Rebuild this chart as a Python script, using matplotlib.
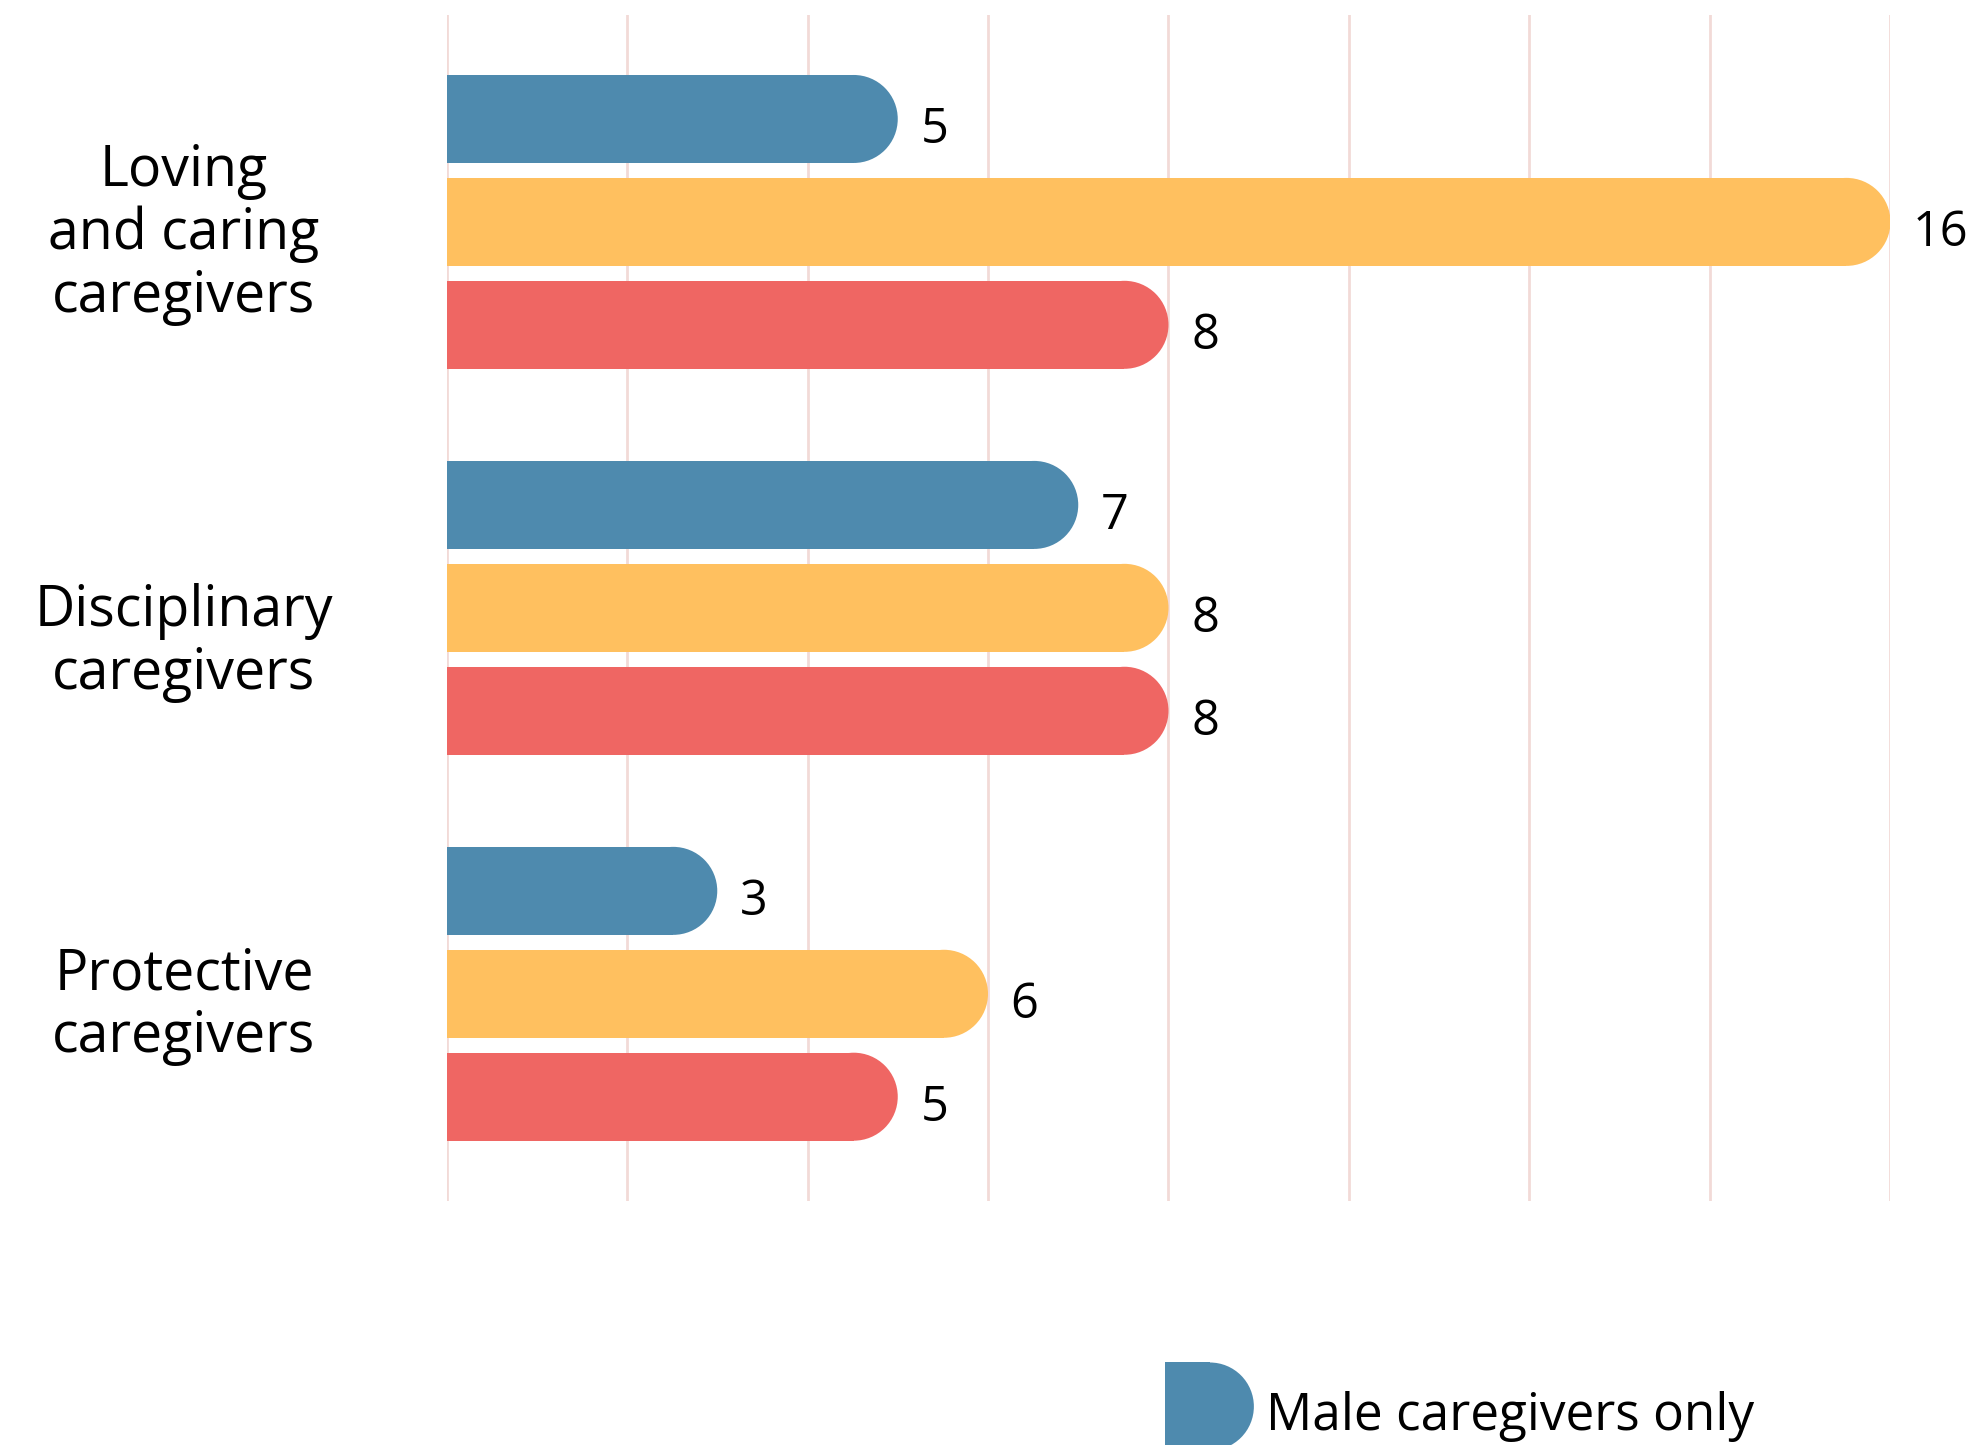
import matplotlib.pyplot as plt
from matplotlib.patches import Ellipse

categories = ['Loving\nand caring\ncaregivers', 'Disciplinary\ncaregivers', 'Protective\ncaregivers']
male_only = [5, 7, 3]
female_only = [16, 8, 6]
both_caregivers = [8, 8, 5]
series = [male_only, female_only, both_caregivers]
colors = ['#4E8AAE', '#FFC05F', '#EF6663']
legend_label = 'Male caregivers only'

plt.rcParams['font.family'] = ['Open Sans', 'DejaVu Sans']

W, H = 1967, 1445
fig = plt.figure(figsize=(W / 100, H / 100), dpi=100)
ax = fig.add_axes([0.2270, 0.1691, 0.7341, 0.8205])
ax.set_xlim(0, 16)
ax.set_ylim(10.51, -1.01)

ax.set_xticks(range(0, 17, 2))
ax.set_yticks([])
ax.tick_params(axis='x', length=0, labelbottom=False)
ax.xaxis.grid(True, color='#F2DAD7', lw=2)
ax.set_axisbelow(True)
for s in ax.spines.values():
    s.set_visible(False)

group_gap = 3.75
bar_h = 0.855
# cap radius in x data units so the end looks round
px_per_x = 0.7341 * W / 16
rx = (bar_h / 2) * (0.8205 * H / 11.52) / px_per_x

for g, cat in enumerate(categories):
    for s, vals in enumerate(series):
        v = vals[g]
        y = g * group_gap + s
        ax.barh(y, v - rx, height=bar_h, left=0, color=colors[s], lw=0)
        ax.add_patch(Ellipse((v - rx, y), 2 * rx, bar_h, color=colors[s], lw=0))
        ax.text(v + 0.25, y + 0.11, str(v), fontsize=35, va='center', ha='left',
                color='black', clip_on=False)

label_shift = [0.12, 0.34, 0.125]
for g, cat in enumerate(categories):
    ax.text(-2.91, g * group_gap + 1 + label_shift[g], cat, fontsize=40,
            ha='center', va='center', linespacing=1.13, clip_on=False)

# legend (only the first entry is visible in the frame)
ly = 12.51
lx = 7.96
ax.barh(ly, 0.986 - rx, height=bar_h, left=lx, color=colors[0], lw=0, clip_on=False)
ax.add_patch(Ellipse((lx + 0.986 - rx, ly), 2 * rx, bar_h, color=colors[0], lw=0,
                     clip_on=False))
ax.text(9.08, ly + 0.1, legend_label, fontsize=37, va='center', ha='left',
        clip_on=False)

fig.savefig('out.png', dpi=100)
